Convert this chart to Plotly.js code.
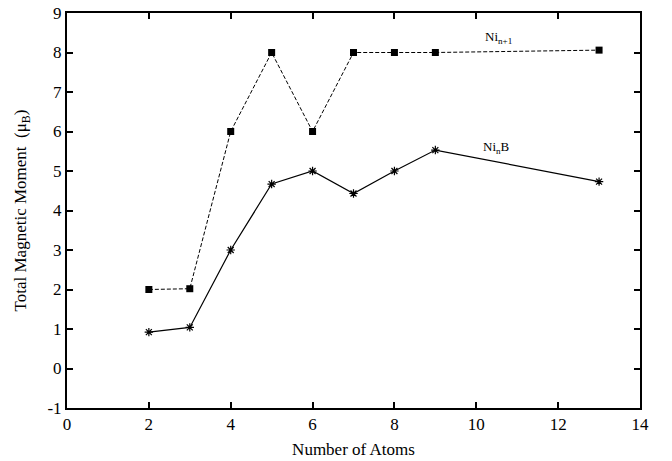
<!DOCTYPE html>
<html><head><meta charset="utf-8">
<script src="https://cdn.plot.ly/plotly-3.0.1.min.js"></script>
<style>body{margin:0;background:#fff}#c{width:672px;height:461px}</style>
</head><body><div id="c"></div>
<script>
const atoms = [2, 3, 4, 5, 6, 7, 8, 9, 13];
const niN1 = [2.0, 2.02, 6.0, 8.0, 6.0, 8.0, 8.0, 8.0, 8.06];
const niNB = [0.92, 1.04, 3.0, 4.67, 5.0, 4.43, 5.0, 5.53, 4.73];
const xTicks = [0, 2, 4, 6, 8, 10, 12, 14];
const yTicks = [-1, 0, 1, 2, 3, 4, 5, 6, 7, 8, 9];
const yTickText = ['-1', '0', '1', '2', '3', '4', '5', '6', '7', '8', '9'];
const seriesNames = ['Ni<sub>n+1</sub>', 'Ni<sub>n</sub>B'];

const font = {family: 'Liberation Serif', color: '#000'};
const traces = [
  {x: atoms, y: niN1, mode: 'lines+markers', name: seriesNames[0],
   line: {color: '#000', width: 1, dash: '4px,2px'},
   marker: {symbol: 'square', size: 7, color: '#000'}},
  {x: atoms, y: niNB, mode: 'lines+markers', name: seriesNames[1],
   line: {color: '#000', width: 1.2},
   marker: {symbol: 'asterisk-open', size: 7, color: '#000', line: {color: '#000', width: 1.2}}}
];
const axisCommon = {showgrid: false, zeroline: false, showline: true, linecolor: '#000', linewidth: 2,
  mirror: 'ticks', ticks: 'inside', ticklen: 6, tickwidth: 2, tickcolor: '#000',
  tickfont: Object.assign({size: 17}, font)};
const layout = {
  width: 672, height: 461,
  margin: {l: 67, r: 32, t: 13, b: 53},
  paper_bgcolor: '#fff', plot_bgcolor: '#fff',
  showlegend: false,
  font: font,
  xaxis: Object.assign({}, axisCommon, {range: [0, 14], tickvals: xTicks,
    title: {text: 'Number of Atoms', font: Object.assign({size: 17}, font), standoff: 10}}),
  yaxis: Object.assign({}, axisCommon, {range: [-1, 9], tickvals: yTicks, ticktext: yTickText,
    title: {text: 'Total Magnetic Moment  (μ<sub>B</sub>)', font: Object.assign({size: 17}, font), standoff: 16}}),
  annotations: [
    {x: 10.55, y: 8.38, text: seriesNames[0], showarrow: false, font: Object.assign({size: 13}, font)},
    {x: 10.5, y: 5.6, text: seriesNames[1], showarrow: false, font: Object.assign({size: 13}, font)}
  ]
};
Plotly.newPlot('c', traces, layout, {staticPlot: true});
</script></body></html>
